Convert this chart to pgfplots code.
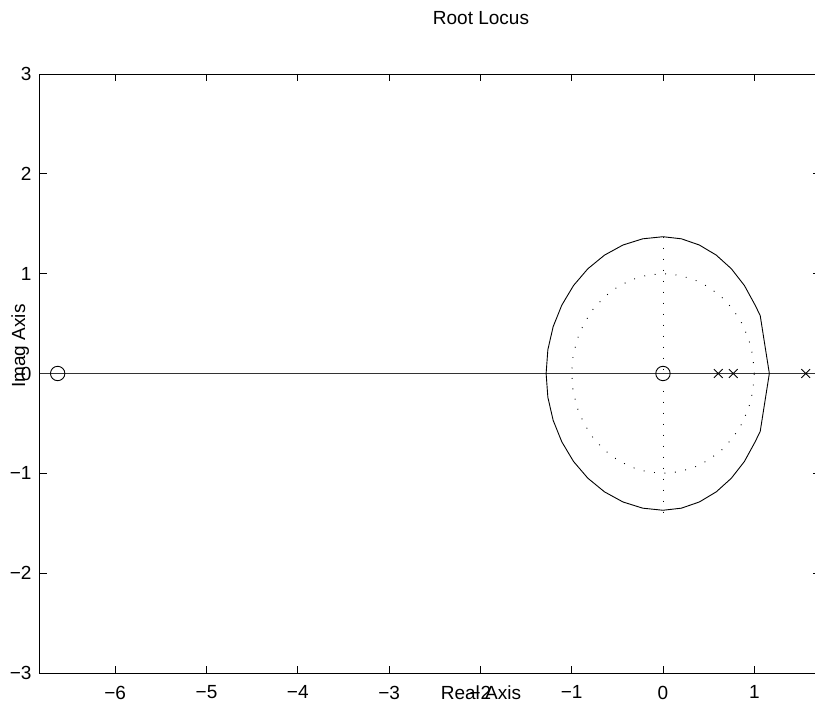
\documentclass[border=0pt]{standalone}
\usepackage{fontspec}
\setmainfont{Liberation Sans}
\usepackage{pgfplots}
\pgfplotsset{compat=1.18}
\begin{document}
\fontsize{19bp}{22bp}\selectfont
\begin{tikzpicture}[x=1bp,y=1bp]
\begin{axis}[at={(39.5bp,36bp)}, anchor=south west, scale only axis,
  width=780.5bp, height=599bp,
  xmin=-6.829, xmax=1.72, ymin=-3, ymax=3,
  xtick={-6,-5,-4,-3,-2,-1,0,1},
  xticklabels={−6,−5,−4,−3,−2,−1,0,1},
  ytick={-3,-2,-1,0,1,2,3},
  yticklabels={−3,−2,−1,0,1,2,3},
  tick align=inside, major tick length=7bp,
  xtick pos=both, ytick pos=both,
  every tick/.style={black, line width=0.8bp},
  axis line style={line width=0.9bp},
  xticklabel style={inner sep=0pt, anchor=north, yshift=-12.7bp},
  yticklabel style={inner sep=0pt, anchor=east, xshift=-7.8bp},
  clip=false,
]
% real axis line
\addplot[black!80, line width=1.1bp] coordinates {(-6.829,0) (1.72,0)};
% unit circle (dotted grid)
\addplot[black, line width=0.9bp, dash pattern=on 0.9bp off 9.6bp] coordinates {
(1,0) (0.9848,0.1736) (0.9397,0.3420) (0.8660,0.5) (0.7660,0.6428) (0.6428,0.7660) (0.5,0.8660) (0.3420,0.9397) (0.1736,0.9848) (0,1)
(-0.1736,0.9848) (-0.3420,0.9397) (-0.5,0.8660) (-0.6428,0.7660) (-0.7660,0.6428) (-0.8660,0.5) (-0.9397,0.3420) (-0.9848,0.1736) (-1,0)
(-0.9848,-0.1736) (-0.9397,-0.3420) (-0.8660,-0.5) (-0.7660,-0.6428) (-0.6428,-0.7660) (-0.5,-0.8660) (-0.3420,-0.9397) (-0.1736,-0.9848) (0,-1)
(0.1736,-0.9848) (0.3420,-0.9397) (0.5,-0.8660) (0.6428,-0.7660) (0.7660,-0.6428) (0.8660,-0.5) (0.9397,-0.3420) (0.9848,-0.1736) (1,0)};
% vertical dotted line
\addplot[black, line width=0.9bp, dash pattern=on 0.9bp off 10.1bp] coordinates {(0,1.37) (0,-1.44)};
% root locus closed branch
\addplot[black, line width=0.9bp] coordinates {
(1.165,0) (1.12,0.26) (1.065,0.58) (1.009,0.685) (0.892,0.881) (0.749,1.049) (0.583,1.186) (0.398,1.287) (0.202,1.349) (0,1.37)
(-0.222,1.349) (-0.438,1.287) (-0.640,1.186) (-0.823,1.049) (-0.980,0.881) (-1.108,0.685) (-1.203,0.469) (-1.261,0.238) (-1.28,0)
(-1.261,-0.238) (-1.203,-0.469) (-1.108,-0.685) (-0.980,-0.881) (-0.823,-1.049) (-0.640,-1.186) (-0.438,-1.287) (-0.222,-1.349) (0,-1.37)
(0.202,-1.349) (0.398,-1.287) (0.583,-1.186) (0.749,-1.049) (0.892,-0.881) (1.009,-0.685) (1.065,-0.58) (1.12,-0.26) (1.165,0)};
% zeros
\addplot[only marks, mark=o, mark size=7.2bp, mark options={line width=0.9bp, black}] coordinates {(0,0) (-6.63,0)};
% poles
\addplot[only marks, mark=x, mark size=6.2bp, mark options={line width=0.9bp, black}] coordinates {(0.606,0) (0.77,0) (1.563,0)};
\end{axis}
\node[anchor=base, inner sep=0pt] at (481,684) {Root Locus};
\node[anchor=base, inner sep=0pt] at (481,9.7) {Real Axis};
\node[anchor=base, inner sep=0pt, rotate=90] at (25,363) {Imag Axis};
\pgfresetboundingbox
\path[use as bounding box] (0,0) rectangle (815,709);
\end{tikzpicture}
\end{document}
